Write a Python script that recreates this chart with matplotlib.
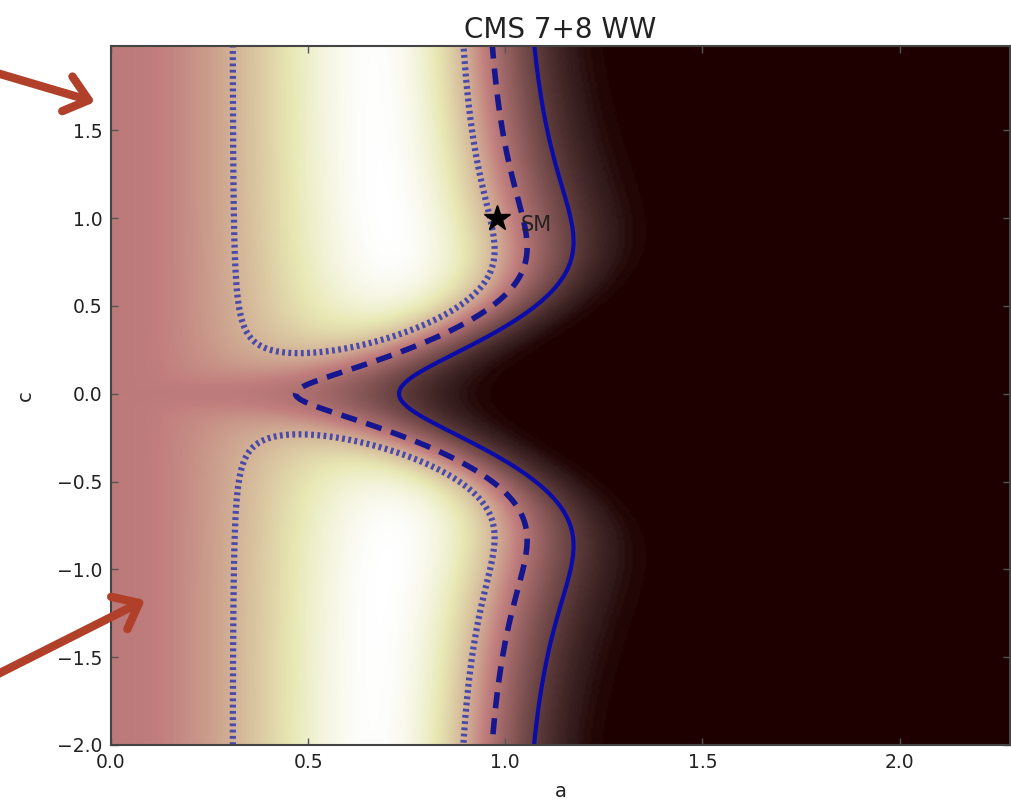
import numpy as np
import matplotlib
matplotlib.use('Agg')
import matplotlib.pyplot as plt

# H->WW signal strengths, split by production mode
mu_ggf_obs, sig_ggf = 0.553, 0.382
mu_vbf_obs, sig_vbf = 0.25, 1.20
# share of the SM width that goes to vector bosons
br_vv = 0.24

# delta chi2 levels for the three contours
levels = [1.3, 2.4, 4.8]
line_styles = [(0, (0.45, 0.55)), (0, (2.9, 1.8)), 'solid']
line_widths = [4.5, 4.0, 3.0]
line_colors = ['#4a4aaa', '#16168f', '#0b0ba8']

a_lim = [0.0, 2.28]
c_lim = [-2.0, 2.0]
sm_point = [0.98, 1.0]

# scan over (a, c)
a = np.linspace(a_lim[0], a_lim[1], 457)
c = np.linspace(c_lim[0], c_lim[1], 401)
A, C = np.meshgrid(a, c)

width = br_vv * A**2 + (1 - br_vv) * C**2
with np.errstate(divide='ignore', invalid='ignore'):
    br_ww = np.where(width > 0, A**2 / width, 0.0)
mu_ggf = C**2 * br_ww
mu_vbf = A**2 * br_ww

chi2 = ((mu_ggf - mu_ggf_obs) / sig_ggf)**2 + ((mu_vbf - mu_vbf_obs) / sig_vbf)**2
chi2 -= chi2.min()
like = np.exp(-0.5 * chi2)

fig = plt.figure(figsize=(10.12, 8.02), dpi=100)
ax = fig.add_axes([111 / 1012, 57 / 802, 899 / 1012, 699 / 802])

ax.imshow(like, origin='lower', extent=a_lim + c_lim, aspect='auto',
          cmap='pink', vmin=0, vmax=1, interpolation='bilinear')
ax.contour(A, C, chi2, levels=levels, colors=line_colors,
           linestyles=line_styles, linewidths=line_widths)

ax.plot(sm_point[0], sm_point[1], '*', color='k', markersize=19)
ax.text(sm_point[0] + 0.06, sm_point[1] - 0.04, 'SM', fontsize=15,
        va='center', ha='left', color='#222222')

ax.set_xlim(a_lim[0], a_lim[1])
ax.set_ylim(c_lim[0], 1.98)
ax.set_xticks([0.0, 0.5, 1.0, 1.5, 2.0])
ax.set_yticks([-2.0, -1.5, -1.0, -0.5, 0.0, 0.5, 1.0, 1.5])
ax.tick_params(direction='in', top=True, right=True, length=5, width=1,
               labelsize=13.5, labelcolor='#222222', color='#555555', pad=6)
for sp in ax.spines.values():
    sp.set_color('#444444')
    sp.set_linewidth(1.5)

ax.set_xlabel('a', fontsize=14, color='#222222', labelpad=7)
ax.set_ylabel('c', fontsize=14, color='#222222', labelpad=16)
ax.set_title('CMS 7+8 WW', fontsize=20, color='#222222', pad=6)

# pointer arrows on the left
for tail, tip in [((-10, 731), (95, 700)), ((-10, 124), (145, 202))]:
    ax.annotate('', xy=tip, xytext=tail, xycoords='figure pixels',
                textcoords='figure pixels', annotation_clip=False,
                arrowprops=dict(arrowstyle='->,head_length=0.8,head_width=0.65',
                                color='#b0402a', lw=6, mutation_scale=20,
                                shrinkA=0, shrinkB=0, capstyle='round',
                                joinstyle='round'))

fig.savefig('out.png', dpi=100)
